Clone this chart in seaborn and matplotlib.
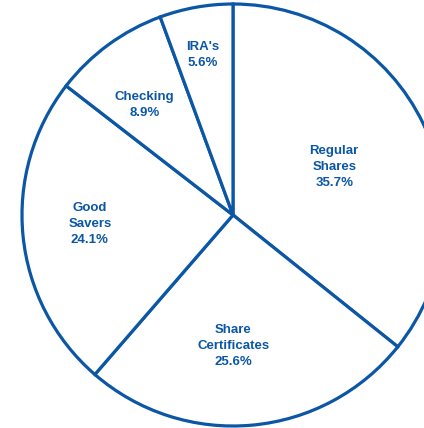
import numpy as np
import seaborn as sns
import matplotlib as mpl
mpl.use('Agg')
import matplotlib.pyplot as plt

categories = ['Regular\nShares', 'Share\nCertificates', 'Good\nSavers',
              'Checking', "IRA's"]
shares = [35.7, 25.6, 24.1, 8.9, 5.6]

# label distance from centre (in radii) and angle nudge (degrees)
label_radius = [0.53, 0.62, 0.68, 0.67, 0.77]
label_nudge = [-0.5, -5.0, -2.0, 2.5, 0.5]

blue = '#0B57A5'

sns.set_theme(style='white')
plt.rcParams['font.family'] = ['Liberation Sans', 'DejaVu Sans']

fig = plt.figure(figsize=(4.24, 4.28), dpi=100)
ax = fig.add_axes([0, 0, 1, 1])

wedges, _ = ax.pie(shares, startangle=90, counterclock=False,
                   colors=['white'] * len(shares),
                   wedgeprops={'edgecolor': blue, 'linewidth': 2.3})

for wedge, cat, val, rad, nudge in zip(wedges, categories, shares,
                                       label_radius, label_nudge):
    mid = np.deg2rad((wedge.theta1 + wedge.theta2) / 2. + nudge)
    ax.text(rad * np.cos(mid), rad * np.sin(mid),
            '{}\n{:.1f}%'.format(cat, val), ha='center', va='center',
            color=blue, fontsize=9.5, weight='bold', linespacing=1.45)

scale = 211.
ax.set_xlim(-233 / scale, (424 - 233) / scale)
ax.set_ylim(-(428 - 215) / scale, 215 / scale)
ax.set_aspect('auto')
ax.axis('off')

plt.savefig('out.png', dpi=100)
plt.close()
